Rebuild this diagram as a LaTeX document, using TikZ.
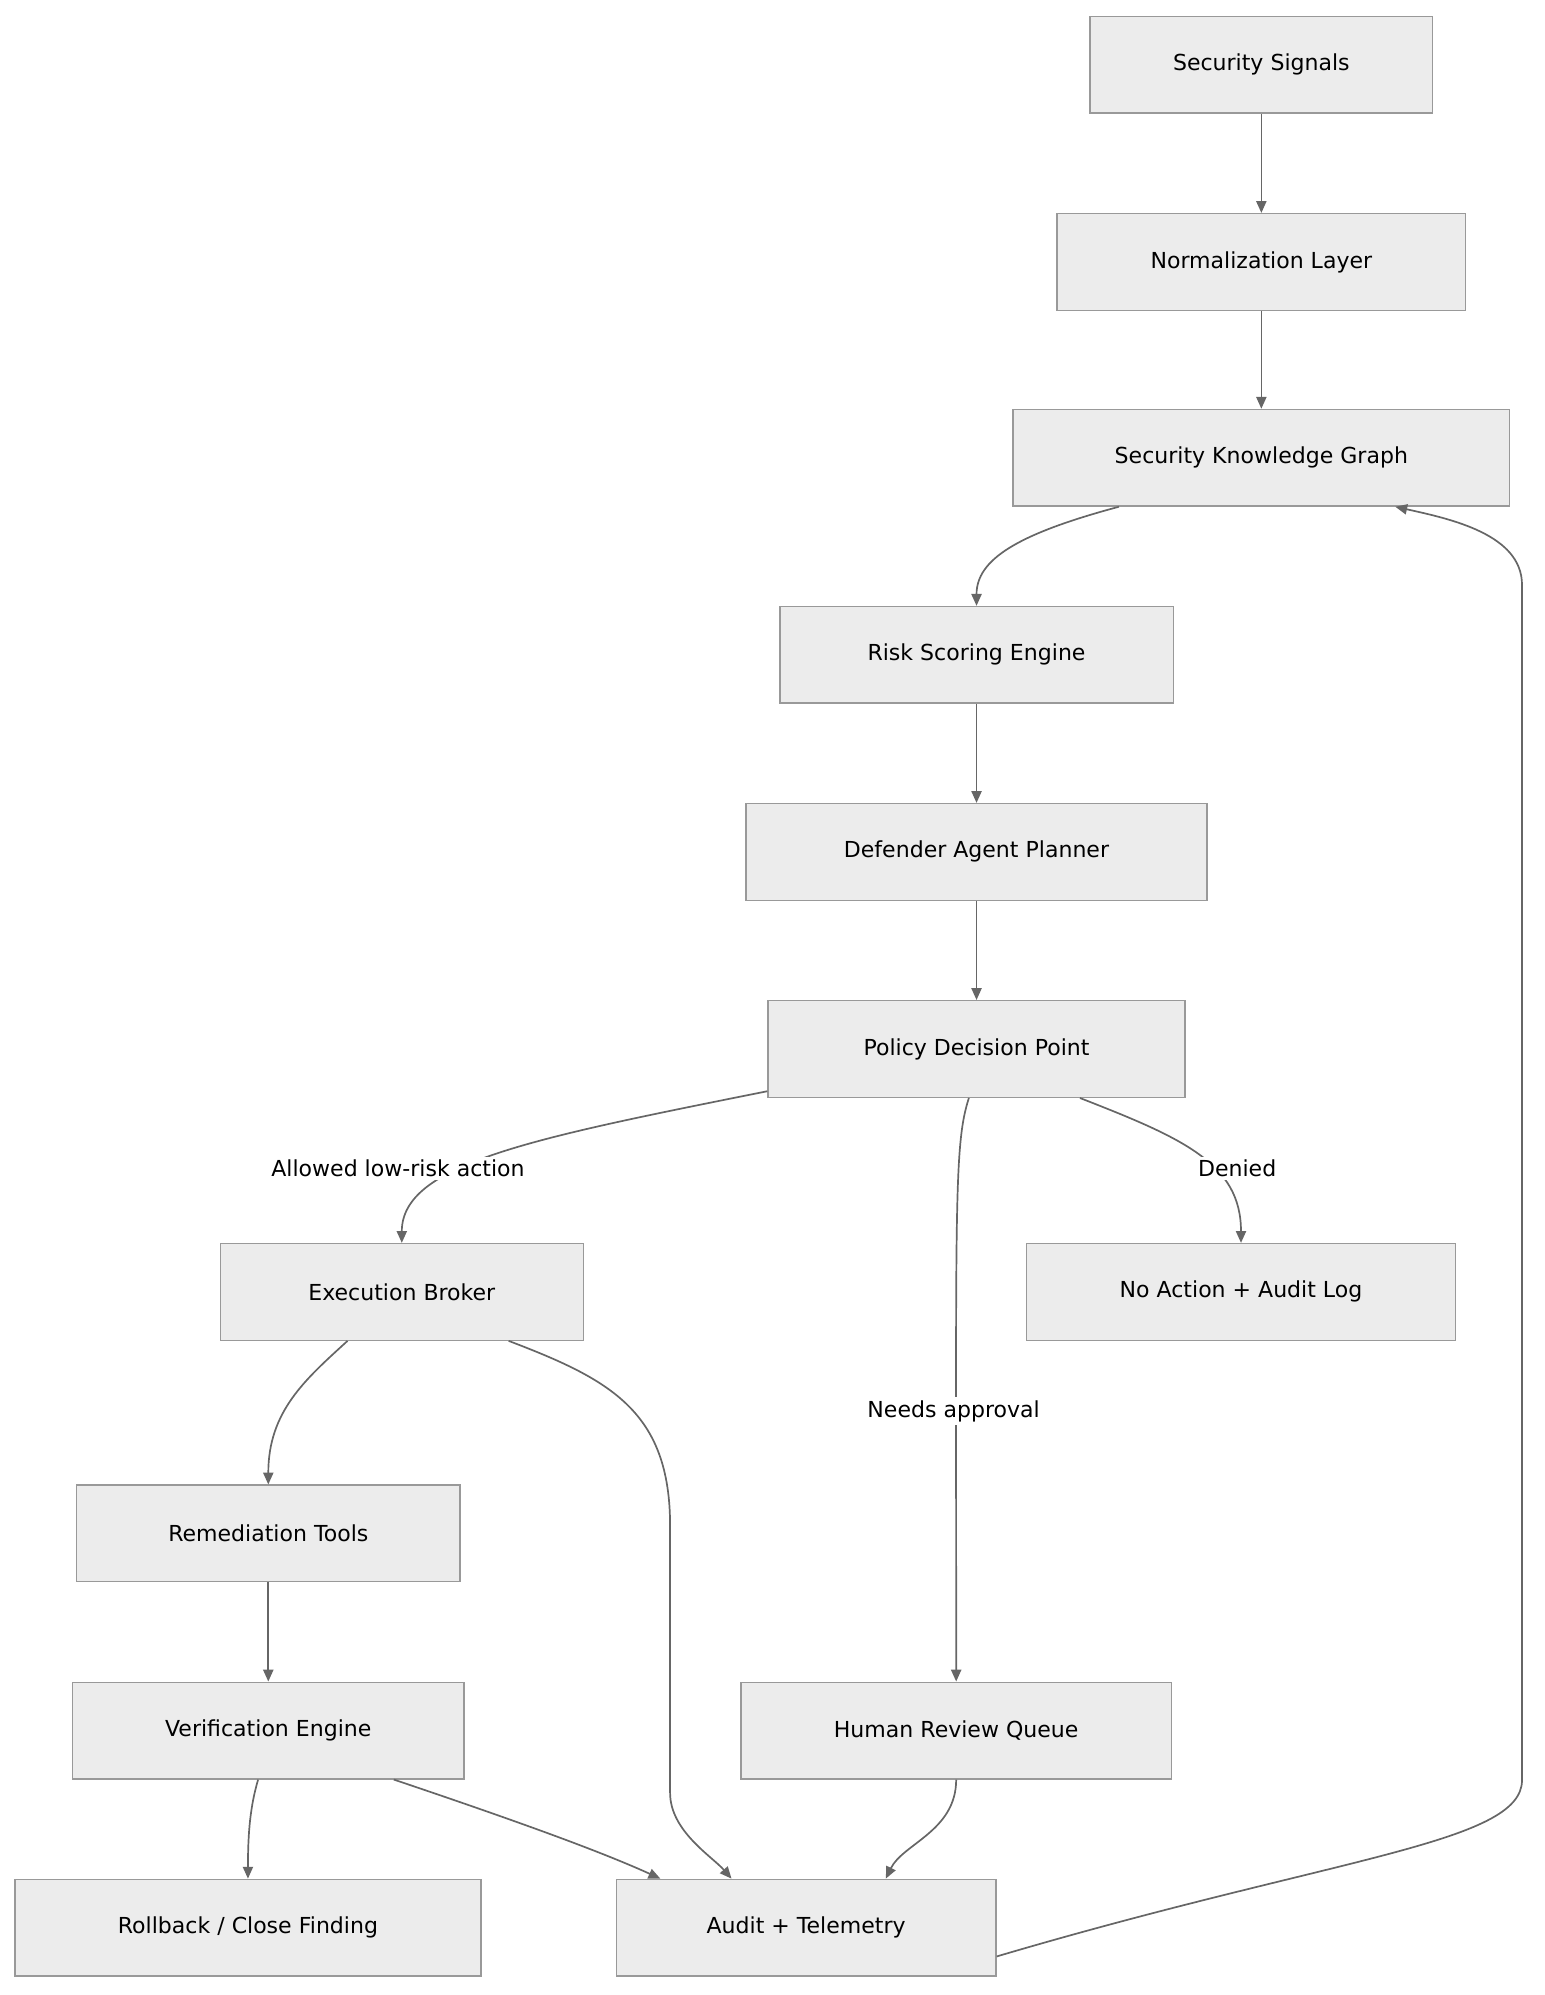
\documentclass[tikz,border=0pt]{standalone}
\usepackage{fontspec}
\setmainfont{DejaVu Sans}
\usetikzlibrary{arrows.meta}
\definecolor{boxfill}{HTML}{ECECEC}
\definecolor{boxline}{HTML}{999999}
\definecolor{edge}{HTML}{666666}
\begin{document}
\begin{tikzpicture}[x=0.75pt,y=-0.75pt,
    box/.style={draw=boxline,fill=boxfill,line width=0.8pt,minimum height=57pt,font=\fontsize{13}{15}\selectfont,inner sep=0pt},
    flow/.style={draw=edge,line width=1pt,-{Triangle[length=7pt,width=6pt]}},
    lbl/.style={fill=white,font=\fontsize{13}{15}\selectfont,inner sep=2pt}]
    \useasboundingbox (0,0) rectangle (1215,1569);

    \node[box,minimum width=202pt] (sig) at (992,51) {Security Signals};
    \node[box,minimum width=241pt] (norm) at (992,206) {Normalization Layer};
    \node[box,minimum width=293pt] (skg) at (992,360) {Security Knowledge Graph};
    \node[box,minimum width=232pt] (risk) at (768,515) {Risk Scoring Engine};
    \node[box,minimum width=272pt] (plan) at (768,670) {Defender Agent Planner};
    \node[box,minimum width=246pt] (pdp) at (768,825) {Policy Decision Point};
    \node[box,minimum width=214pt] (exec) at (316,1016) {Execution Broker};
    \node[box,minimum width=253pt] (deny) at (976,1016) {No Action + Audit Log};
    \node[box,minimum width=226pt] (remed) at (211,1206) {Remediation Tools};
    \node[box,minimum width=231pt] (verif) at (211,1361) {Verification Engine};
    \node[box,minimum width=254pt] (human) at (752,1361) {Human Review Queue};
    \node[box,minimum width=275pt] (roll) at (195,1516) {Rollback / Close Finding};
    \node[box,minimum width=224pt] (audit) at (634,1516) {Audit + Telemetry};

    \draw[flow] (sig) -- (norm);
    \draw[flow] (norm) -- (skg);
    \draw[flow] ([xshift=-84pt]skg.south) .. controls (800,420) and (768,440) .. (risk.north);
    \draw[flow] (risk) -- (plan);
    \draw[flow] (plan) -- (pdp);

    \draw[flow] ([yshift=4pt]pdp.south west) .. controls (420,895) and (316,915) .. (exec.north);
    \node[lbl] (allow) at (313,919) {Allowed low-risk action};
    \draw[flow] ([xshift=-4.5pt]pdp.south) .. controls (750,900) and (752,950) .. (human.north);
    \node[lbl] (need) at (750,1110) {Needs approval};
    \draw[flow] ([xshift=61pt]pdp.south) .. controls (930,895) and (976,915) .. (deny.north);
    \node[lbl] (no) at (973,919) {Denied};

    \draw[flow] ([xshift=-32pt]exec.south) .. controls (240,1085) and (211,1110) .. (remed.north);
    \draw[flow] ([xshift=63pt]exec.south) .. controls (480,1085) and (527,1110) .. (527,1200)
        -- (527,1410) .. controls (527,1440) and (560,1460) .. ([xshift=-44pt]audit.north);
    \draw[flow] (remed) -- (verif);
    \draw[flow] ([xshift=-6pt]verif.south) .. controls (197,1420) and (195,1440) .. (roll.north);
    \draw[flow] ([xshift=74pt]verif.south) .. controls (400,1430) and (470,1455) .. ([xshift=-86pt]audit.north);
    \draw[flow] (human.south) .. controls (752,1440) and (710,1450) .. ([xshift=47pt]audit.north);
    \draw[flow] ([yshift=-17pt]audit.east) .. controls (1050,1460) and (1197,1450) .. (1197,1400)
        -- (1197,460) .. controls (1197,420) and (1140,408) .. ([xshift=79pt]skg.south);
\end{tikzpicture}
\end{document}
